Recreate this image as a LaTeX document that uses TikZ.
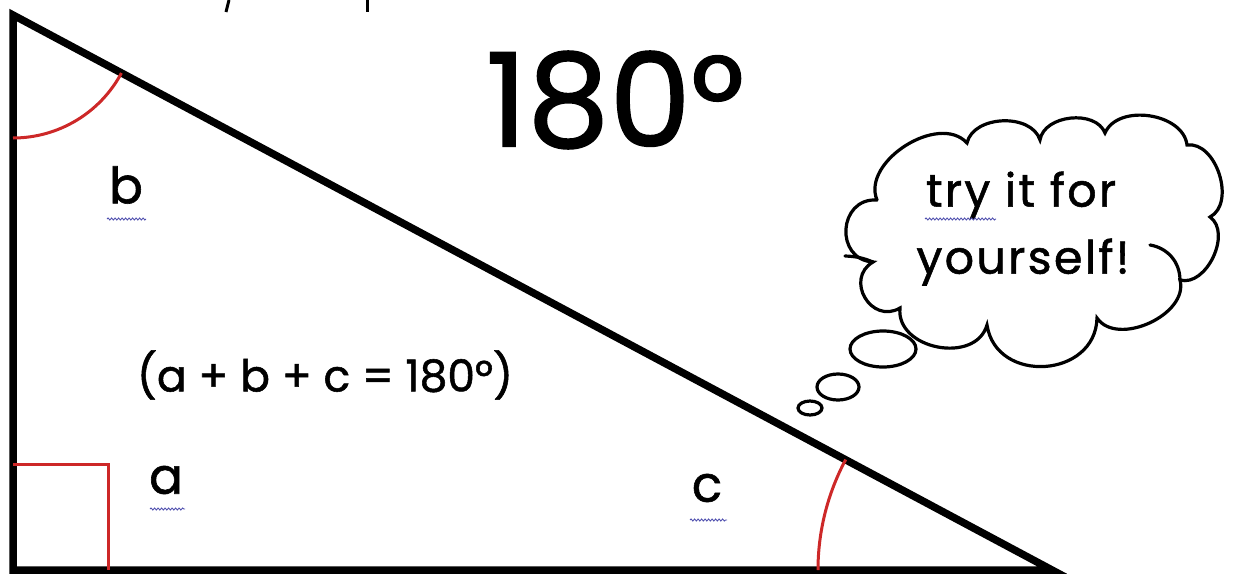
\documentclass[tikz,border=0pt]{standalone}
\usepackage{fontspec}
\setmainfont{Poppins}[FakeBold=1.2]
\usetikzlibrary{decorations.pathmorphing}
\definecolor{angred}{RGB}{205,40,40}
\definecolor{squig}{RGB}{80,80,175}
\tikzset{
  side/.style={line width=7.5pt, line join=miter},
  angmark/.style={draw=angred, line width=3pt},
  lbl/.style={inner sep=0pt, font=\fontsize{50}{50}\selectfont},
  squiggle/.style={draw=squig, line width=0.9pt, decorate, decoration={snake, segment length=3.5pt, amplitude=1pt}},
  cloudline/.style={line width=3.2pt, line cap=round},
  cloudtext/.style={inner sep=0pt, font=\addfontfeatures{LetterSpace=5}\fontsize{46}{46}\selectfont},
}
\begin{document}
\begin{tikzpicture}[x=1pt,y=-1pt]
\useasboundingbox (0,0) rectangle (1237,576);
% triangle
\coordinate (A) at (13,15);
\coordinate (B) at (13,570);
\coordinate (C) at (1052,570);
\draw[side] (A) -- (B) -- (C) -- cycle;
% angle marks
\coordinate (sqa) at (13,464);
\coordinate (sqb) at (108,464);
\coordinate (sqc) at (108,570);
\draw[angmark] (sqa) -- (sqb) -- (sqc);
\draw[angmark] (A) ++(28.16:123) arc[start angle=28.16, end angle=90, radius=123];
\draw[angmark] (C) ++(180:234) arc[start angle=180, end angle=208.16, radius=234];
% clipped heading fragments
\coordinate (d1a) at (229,0); \coordinate (d1b) at (226,12);
\coordinate (d2a) at (367,0); \coordinate (d2b) at (367,12);
\draw[line width=3pt] (d1a) -- (d1b);
\draw[line width=3pt] (d2a) -- (d2b);
% texts
\node[inner sep=0pt, font=\fontsize{130}{130}\selectfont] (big) at (615,100) {180°};
\node[inner sep=0pt, font=\fontsize{44}{44}\selectfont] (sum) at (325,375) {(a + b + c = 180°)};
\node[lbl] (lb) at (126,185) {b};
\node[lbl] (la) at (166,480) {a};
\node[lbl] (lc) at (707,488) {c};
\coordinate (ub1) at (107,219); \coordinate (ub2) at (146,219);
\coordinate (ua1) at (150,509); \coordinate (ua2) at (185,509);
\coordinate (uc1) at (690,520); \coordinate (uc2) at (727,520);
\draw[squiggle] (ub1) -- (ub2);
\draw[squiggle] (ua1) -- (ua2);
\draw[squiggle] (uc1) -- (uc2);
% cloud
\coordinate (k1) at (877,200);
\coordinate (k2) at (967,143);
\coordinate (k3) at (1040,140);
\coordinate (k4) at (1105,133);
\coordinate (k5) at (1187,145);
\coordinate (k6) at (1210,217);
\coordinate (k7) at (1180,280);
\coordinate (k8) at (1097,318);
\coordinate (k9) at (987,325);
\coordinate (k10) at (900,308);
\coordinate (k11) at (873,262);
\draw[cloudline, fill=white] (k1) to[bend left=80] (k2) to[bend left=75] (k3) to[bend left=75] (k4)
  to[bend left=75] (k5) to[bend left=80] (k6) to[bend left=80] (k7) to[bend left=80] (k8)
  to[bend left=85, looseness=1.4] (k9) to[bend left=85, looseness=1.2] (k10) to[bend left=90, looseness=1.6] (k11) to[bend left=90, looseness=1.6] (k1);
\coordinate (t1) at (845,256);
\coordinate (t2) at (1150,245);
\draw[cloudline] (t1) to[bend left=10] (k11);
\draw[cloudline] (t2) to[bend left=40] (k7);
\node[cloudtext] (try) at (1021,195) {try it for};
\node[cloudtext] (your) at (1023,262) {yourself!};
\coordinate (ut1) at (925,219); \coordinate (ut2) at (996,219);
\draw[squiggle] (ut1) -- (ut2);
% thought bubbles
\draw[cloudline] (883,349) ellipse[x radius=33, y radius=18];
\draw[cloudline] (838,387) ellipse[x radius=21, y radius=13];
\draw[cloudline] (810,408) ellipse[x radius=12, y radius=7];
\end{tikzpicture}
\end{document}
